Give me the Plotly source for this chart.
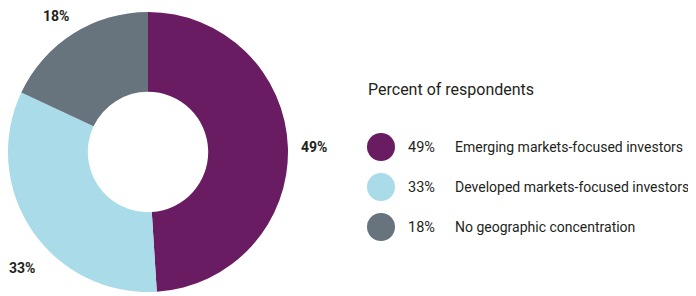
import numpy as np
import plotly.graph_objects as go

# ---- data ----
categories = ["Emerging markets-focused investors",
              "Developed markets-focused investors",
              "No geographic concentration"]
values = [49, 33, 18]
pct_labels = ["49%", "33%", "18%"]
colors = ["#6a1c62", "#a9dbe8", "#67737d"]
legend_title = "Percent of respondents"

# the page adds an 8px body margin; size the figure to fill the rest
OFF = 8
W, H = 696 - OFF, 296 - OFF
FONT = "Roboto, Liberation Sans, sans-serif"
TXT = "#231f20"


def px(x):  # reference-pixel x -> paper
    return (x - OFF) / W


def py(y):  # reference-pixel y (from top) -> paper
    return 1 - (y - OFF) / H


# donut geometry (reference pixels)
cx, cy, R = 148, 152, 140
hole = 0.43

fig = go.Figure()
fig.add_trace(go.Pie(
    values=values, labels=categories, sort=False, direction="clockwise",
    rotation=0, hole=hole, marker=dict(colors=colors, line=dict(width=0)),
    textinfo="none", hoverinfo="label+percent", showlegend=False,
    domain=dict(x=[px(cx - R), px(cx + R)], y=[py(cy + R), py(cy - R)]),
))

# outside percentage labels, positioned from each slice's mid angle
vals = np.array(values, dtype=float)
cum = np.cumsum(vals) / vals.sum()
mid = (cum - vals / vals.sum() / 2) * 2 * np.pi
label_r = [166, 171, 164]
angle_shift = [0.0, -0.147, -0.03]
for lab, a, r, s in zip(pct_labels, mid, label_r, angle_shift):
    a2 = a + s
    lx = cx + r * np.sin(a2)
    ly = cy - r * np.cos(a2)
    fig.add_annotation(x=px(lx), y=py(ly), xref="paper", yref="paper",
                       text=f"<b>{lab}</b>", showarrow=False,
                       font=dict(family=FONT, size=14, color=TXT),
                       xanchor="center", yanchor="middle")

# legend drawn on a pixel-scaled axis (one unit per item)
idx = list(range(len(categories)))
fig.add_trace(go.Scatter(
    x=[381 - OFF] * len(categories), y=idx, mode="markers",
    marker=dict(size=28, color=colors, line=dict(width=0)),
    xaxis="x", yaxis="y", showlegend=False, hoverinfo="skip",
))
for i, (p, c) in enumerate(zip(pct_labels, categories)):
    fig.add_annotation(x=406 - OFF, y=i, xref="x", yref="y", text=p, showarrow=False,
                       xanchor="left", yanchor="middle",
                       font=dict(family=FONT, size=14.5, color=TXT))
    fig.add_annotation(x=453 - OFF, y=i, xref="x", yref="y", text=c, showarrow=False,
                       xanchor="left", yanchor="middle",
                       font=dict(family=FONT, size=14, color=TXT))
fig.add_annotation(x=px(366), y=py(89), xref="paper", yref="paper", text=legend_title,
                   showarrow=False, xanchor="left", yanchor="middle",
                   font=dict(family=FONT, size=16, color=TXT))

fig.update_layout(
    width=W, height=H, margin=dict(l=0, r=0, t=0, b=0),
    paper_bgcolor="white", plot_bgcolor="rgba(0,0,0,0)",
    xaxis=dict(range=[0, W], domain=[0, 1], visible=False, fixedrange=True),
    yaxis=dict(range=[2.5, -0.5], domain=[py(247), py(127)],
               visible=False, fixedrange=True),
)

fig.write_html("out.html")
